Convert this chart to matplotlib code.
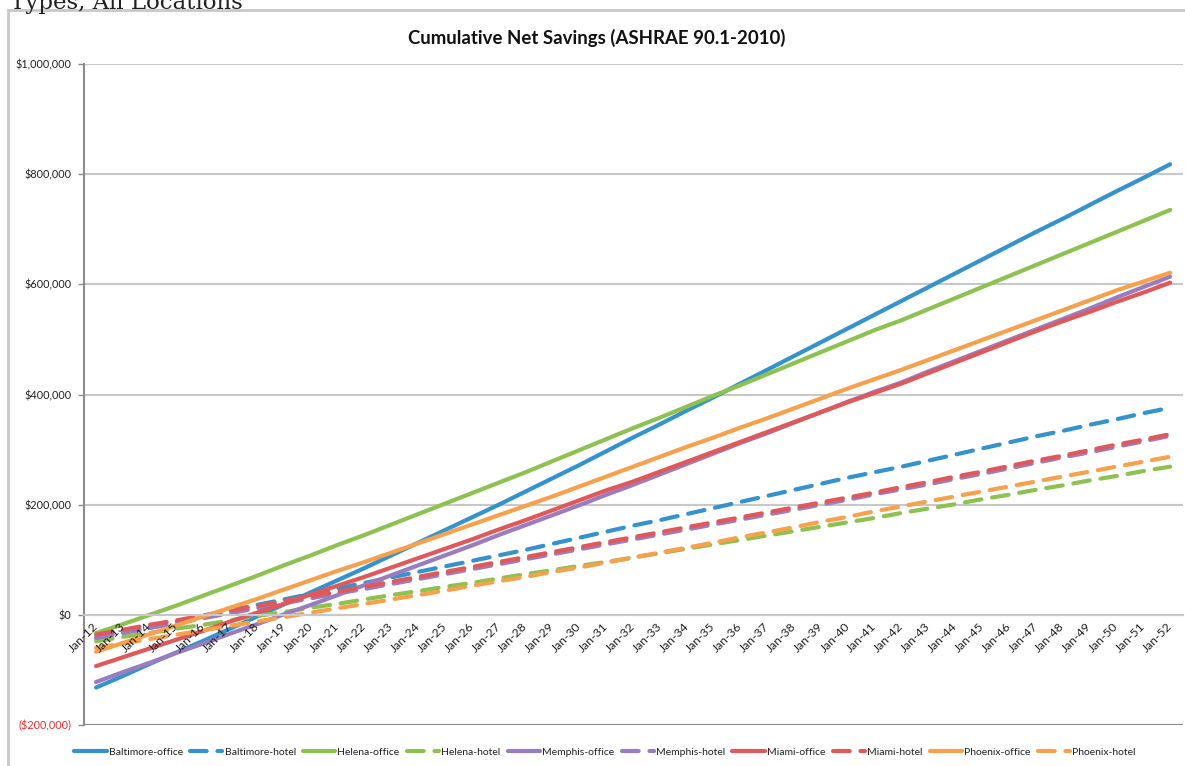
import matplotlib
matplotlib.use("Agg")
import matplotlib.pyplot as plt
from matplotlib.patches import Rectangle
from matplotlib.ticker import FuncFormatter

years = [f"Jan-{y}" for y in range(12, 53)]

baltimore_office = [-132, -111, -89, -68, -47, -25, -3, 19, 41, 63, 85, 108, 131, 154, 177, 200,
                    224, 248, 272, 297, 322, 346, 371, 395, 420, 445, 470, 495, 520, 545, 570,
                    595, 620, 645, 670, 695, 719, 744, 769, 793, 818]
baltimore_hotel = [-42, -32, -22, -12, -2, 8, 18, 28, 38, 48, 58, 68, 78, 88, 98, 108, 118, 129,
                   140, 151, 162, 172, 183, 194, 205, 216, 227, 238, 249, 259, 269, 280, 291, 302,
                   313, 324, 334, 345, 355, 366, 376]
helena_office = [-33, -17, 0, 17, 35, 53, 71, 90, 108, 127, 145, 164, 183, 202, 221, 240, 259, 279,
                 299, 319, 339, 358, 378, 398, 417, 437, 457, 477, 497, 517, 535, 555, 575, 595,
                 615, 635, 655, 675, 695, 715, 735]
helena_hotel = [-48, -40, -33, -25, -18, -10, -2, 5, 13, 20, 28, 36, 43, 51, 58, 66, 74, 81, 89, 96,
                104, 112, 120, 128, 136, 144, 152, 160, 168, 176, 185, 193, 201, 210, 218, 227, 235,
                244, 252, 261, 269]
memphis_office = [-122, -104, -87, -69, -52, -34, -17, 1, 18, 36, 54, 72, 90, 108, 126, 145, 163,
                  181, 199, 218, 236, 255, 274, 293, 312, 330, 349, 368, 387, 405, 422, 442, 461,
                  480, 499, 518, 537, 556, 576, 595, 614]
memphis_hotel = [-42, -33, -24, -15, -6, 3, 12, 21, 30, 39, 47, 56, 65, 74, 83, 92, 101, 110, 119,
                 128, 137, 146, 155, 164, 173, 182, 191, 200, 209, 219, 228, 237, 247, 256, 266, 276,
                 286, 295, 305, 315, 325]
miami_office = [-93, -77, -61, -45, -29, -12, 4, 20, 37, 53, 69, 86, 103, 120, 137, 155, 172, 190,
                208, 226, 242, 260, 278, 296, 314, 332, 350, 368, 386, 403, 420, 439, 458, 477, 496,
                515, 533, 550, 568, 585, 603]
miami_hotel = [-36, -27, -18, -10, -1, 8, 16, 25, 34, 42, 51, 60, 69, 78, 87, 96, 105, 114, 123, 132,
               141, 150, 159, 168, 177, 186, 195, 204, 213, 222, 232, 241, 251, 260, 270, 280, 289,
               299, 309, 318, 328]
phoenix_office = [-67, -51, -35, -19, -3, 13, 29, 46, 63, 80, 96, 113, 130, 147, 164, 181, 198, 215,
                  233, 251, 269, 287, 305, 322, 340, 357, 375, 393, 411, 428, 445, 463, 481, 499,
                  517, 535, 553, 571, 589, 605, 621]
phoenix_hotel = [-60, -52, -44, -36, -28, -20, -12, -4, 4, 12, 20, 28, 36, 44, 53, 61, 69, 78, 86, 95,
                 104, 113, 122, 131, 141, 150, 159, 169, 178, 188, 197, 206, 215, 224, 233, 242, 251,
                 260, 269, 278, 287]

series_names = ["Baltimore-office", "Baltimore-hotel", "Helena-office", "Helena-hotel",
                "Memphis-office", "Memphis-hotel", "Miami-office", "Miami-hotel",
                "Phoenix-office", "Phoenix-hotel"]
series_values = [baltimore_office, baltimore_hotel, helena_office, helena_hotel,
                 memphis_office, memphis_hotel, miami_office, miami_hotel,
                 phoenix_office, phoenix_hotel]
colors = ["#3492ce", "#3492ce", "#8dc150", "#8dc150", "#9a7cc0", "#9a7cc0",
          "#e1585a", "#e1585a", "#f8a04c", "#f8a04c"]

title = "Cumulative Net Savings (ASHRAE 90.1-2010)"
y_ticks = [-200000, 0, 200000, 400000, 600000, 800000, 1000000]

fig = plt.figure(figsize=(11.85, 7.66), dpi=100)
W, H = 1185, 766

# page text cut off at top
fig.text(10 / W, 1 - 9 / H, "Types, All Locations", family="DejaVu Serif", fontsize=16.5,
         ha="left", va="baseline", color="#222222")
# chart outer border
fig.patches.append(Rectangle((8 / W, -0.05), 1.2, 1 - 10 / H + 0.05, transform=fig.transFigure,
                             fill=False, edgecolor="#c8c8c8", lw=2, figure=fig))

ax = fig.add_axes([84 / W, 1 - 725 / H, (1183 - 84) / W, (725 - 64) / H])
ax.spines["bottom"].set_position(("data", 0))

x = list(range(len(years)))
for name, vals, c in zip(series_names, series_values, colors):
    ln, = ax.plot(x, [v * 1000 for v in vals], color=c, lw=3, label=name,
                  solid_capstyle="round", dash_capstyle="round")
    if name.endswith("hotel"):
        ln.set_dashes((4.0, 2.6))

ax.set_xlim(-0.45, 40.48)
ax.set_ylim(-200000, 1000000)
ax.set_yticks(y_ticks)


def fmt(v, pos):
    if v < 0:
        return f"(${-v:,.0f})"
    return f"${v:,.0f}"


ax.yaxis.set_major_formatter(FuncFormatter(fmt))
ax.tick_params(axis="y", length=4, width=1, color="#8c8c8c", pad=5, labelsize=7.8)
ax.figure.canvas.draw()
for lab in ax.get_yticklabels():
    lab.set_family("Lato")
    lab.set_color("#e03030" if lab.get_text().startswith("(") else "#222222")

ax.set_xticks(x)
ax.set_xticklabels(years, rotation=45, ha="right", va="center", rotation_mode="anchor",
                   family="Lato", fontsize=8.8, color="#222222")
ax.tick_params(axis="x", length=0, pad=7)

ax.spines["bottom"].set_color("#c8c8c8")
ax.spines["bottom"].set_linewidth(1.5)
ax.spines["top"].set_visible(False)
ax.spines["right"].set_visible(False)
ax.spines["left"].set_color("#8c8c8c")
ax.spines["left"].set_linewidth(1.5)
ax.yaxis.grid(True, color="#c8c8c8", lw=1.5)
ax.set_axisbelow(True)
ax.xaxis.set_zorder(5)
ax.axhline(-200000, color="#8c8c8c", lw=1.5, zorder=1)

fig.text(597 / W, 1 - 38 / H, title, family="Lato", fontweight="bold", fontsize=13.4,
         ha="center", va="center", color="#111111")

handles, labels = ax.get_legend_handles_labels()
fig.legend(handles, labels, loc="center", bbox_to_anchor=(605 / W, 1 - 752 / H), ncol=10,
           frameon=False, prop={"family": "Lato", "size": 7.5}, handlelength=3.1,
           handletextpad=0.2, columnspacing=0.7, labelcolor="#222222")

fig.savefig("out.png", dpi=100)
